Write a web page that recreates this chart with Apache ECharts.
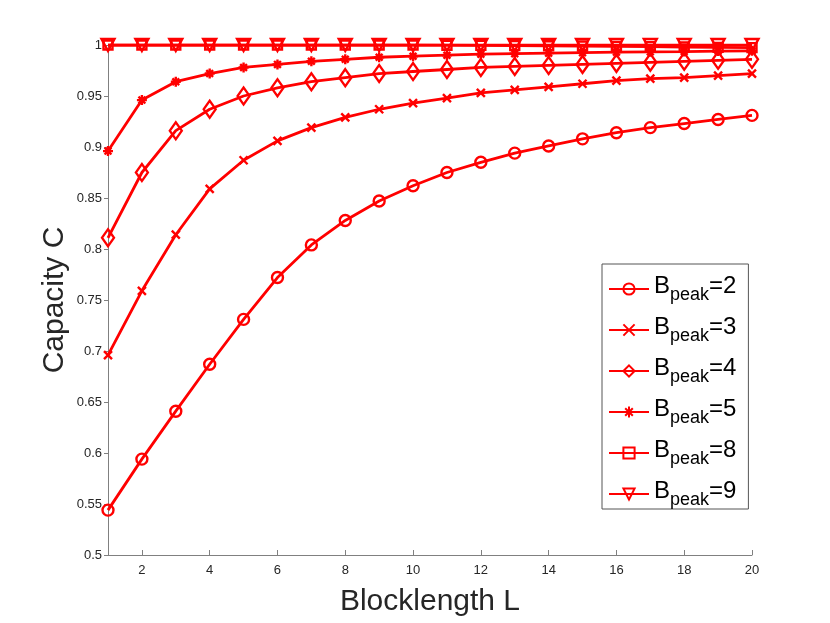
<!DOCTYPE html>
<html style="height: 100%">
<head>
    <meta charset="utf-8">
    <script src="https://cdn.jsdelivr.net/npm/echarts@6/dist/echarts.min.js"></script>
</head>
<body style="height: 100%; margin: 0; background: #fff">
<div id="chart" style="width: 830px; height: 623px;"></div>
<script type="text/javascript">
    // blocklength L
    const blockLength = [1, 2, 3, 4, 5, 6, 7, 8, 9, 10, 11, 12, 13, 14, 15, 16, 17, 18, 19, 20];
    const xTicks = [2, 4, 6, 8, 10, 12, 14, 16, 18, 20];

    // capacity C for each B_peak
    const capB2 = [0.544, 0.594, 0.641, 0.687, 0.731, 0.772, 0.804, 0.828, 0.847, 0.862,
                   0.875, 0.885, 0.894, 0.901, 0.908, 0.914, 0.919, 0.923, 0.927, 0.931];
    const capB3 = [0.696, 0.759, 0.814, 0.859, 0.887, 0.906, 0.919, 0.929, 0.937, 0.943,
                   0.948, 0.953, 0.956, 0.959, 0.962, 0.965, 0.967, 0.968, 0.970, 0.972];
    const capB4 = [0.811, 0.875, 0.916, 0.937, 0.950, 0.958, 0.964, 0.968, 0.972, 0.974,
                   0.976, 0.978, 0.979, 0.980, 0.981, 0.982, 0.983, 0.984, 0.985, 0.986];
    const capB5 = [0.896, 0.946, 0.964, 0.972, 0.978, 0.981, 0.984, 0.986, 0.988, 0.989,
                   0.990, 0.991, 0.9915, 0.992, 0.9925, 0.993, 0.9933, 0.9936, 0.994, 0.9943];
    const capB8 = [1.000, 1.000, 1.000, 1.000, 1.000, 1.000, 1.000, 1.000, 1.000, 1.000,
                   0.9998, 0.9996, 0.9994, 0.9992, 0.999, 0.9987, 0.9984, 0.998, 0.9977, 0.9974];
    const capB9 = [1.000, 1.000, 1.000, 1.000, 1.000, 1.000, 1.000, 1.000, 1.000, 1.000,
                   1.000, 1.000, 1.000, 1.000, 1.000, 1.000, 1.000, 1.000, 1.000, 1.000];

    const peaks = ['2', '3', '4', '5', '8', '9'];
    const allCaps = [capB2, capB3, capB4, capB5, capB8, capB9];

    const RED = '#ff0000';
    const xMark = 'path://M0,0L10,10M10,0L0,10';
    const starMark = 'path://M5,0L5,10M0,5L10,5M1.6,1.6L8.4,8.4M8.4,1.6L1.6,8.4';
    const markers = [
        {symbol: 'circle', size: 11, rotate: 0},
        {symbol: xMark, size: 8, rotate: 0},
        {symbol: 'diamond', size: [12, 17], rotate: 0},
        {symbol: starMark, size: 10, rotate: 0},
        {symbol: 'rect', size: 9, rotate: 0},
        {symbol: 'triangle', size: [13, 12], rotate: 180}
    ];

    function pairs(ys) {
        return blockLength.map(function (x, i) { return [x, ys[i]]; });
    }

    const FONT = 'Liberation Sans';
    let series = [];
    for (let i = 0; i < peaks.length; i++) {
        series.push({
            name: 'B' + peaks[i],
            type: 'line',
            data: pairs(allCaps[i]),
            symbol: markers[i].symbol,
            symbolSize: markers[i].size,
            symbolRotate: markers[i].rotate,
            showAllSymbol: true,
            animation: false,
            lineStyle: {color: RED, width: 2.8},
            itemStyle: {color: 'transparent', borderColor: RED, borderWidth: 2.4}
        });
    }

    const chart = echarts.init(document.getElementById('chart'));
    chart.setOption({
        backgroundColor: '#fff',
        grid: {left: 108, right: 78, top: 45, bottom: 68},
        xAxis: {
            type: 'value',
            min: 1,
            max: 20,
            name: 'Blocklength L',
            nameLocation: 'middle',
            nameGap: 32,
            nameTextStyle: {fontFamily: FONT, fontSize: 30, color: '#262626'},
            axisLine: {lineStyle: {color: '#808080', width: 1}},
            axisTick: {inside: true, length: 5, customValues: xTicks, lineStyle: {color: '#808080'}},
            axisLabel: {customValues: xTicks, fontFamily: FONT, fontSize: 13, color: '#262626', margin: 9},
            splitLine: {show: false}
        },
        yAxis: {
            type: 'value',
            min: 0.5,
            max: 1,
            interval: 0.05,
            name: 'Capacity C',
            nameLocation: 'middle',
            nameGap: 38,
            nameMoveOverlap: false,
            nameTextStyle: {fontFamily: FONT, fontSize: 30, color: '#262626'},
            axisLine: {show: true, lineStyle: {color: '#808080', width: 1}},
            axisTick: {show: true, length: 4, lineStyle: {color: '#808080'}},
            axisLabel: {fontFamily: FONT, fontSize: 13, color: '#262626', margin: 6},
            splitLine: {show: false}
        },
        legend: {
            orient: 'vertical',
            left: 602,
            top: 264,
            width: 146,
            padding: [10, 12, 0, 6],
            itemGap: 11,
            itemWidth: 40,
            itemHeight: 14,
            backgroundColor: '#fff',
            borderColor: '#555',
            borderWidth: 1,
            borderRadius: 0,
            data: series.map(function (s) { return s.name; }),
            formatter: function (name) {
                return '{b|B}{s|peak}{b|=' + name.slice(1) + '}';
            },
            textStyle: {
                fontFamily: FONT,
                color: '#000',
                rich: {
                    b: {fontFamily: FONT, fontSize: 24, color: '#000', lineHeight: 30, verticalAlign: 'top', padding: [0, 0, 6, 0]},
                    s: {fontFamily: FONT, fontSize: 18, color: '#000', lineHeight: 30, verticalAlign: 'bottom', padding: [10, 0, 0, 0]}
                }
            }
        },
        series: series
    });
</script>
</body>
</html>
